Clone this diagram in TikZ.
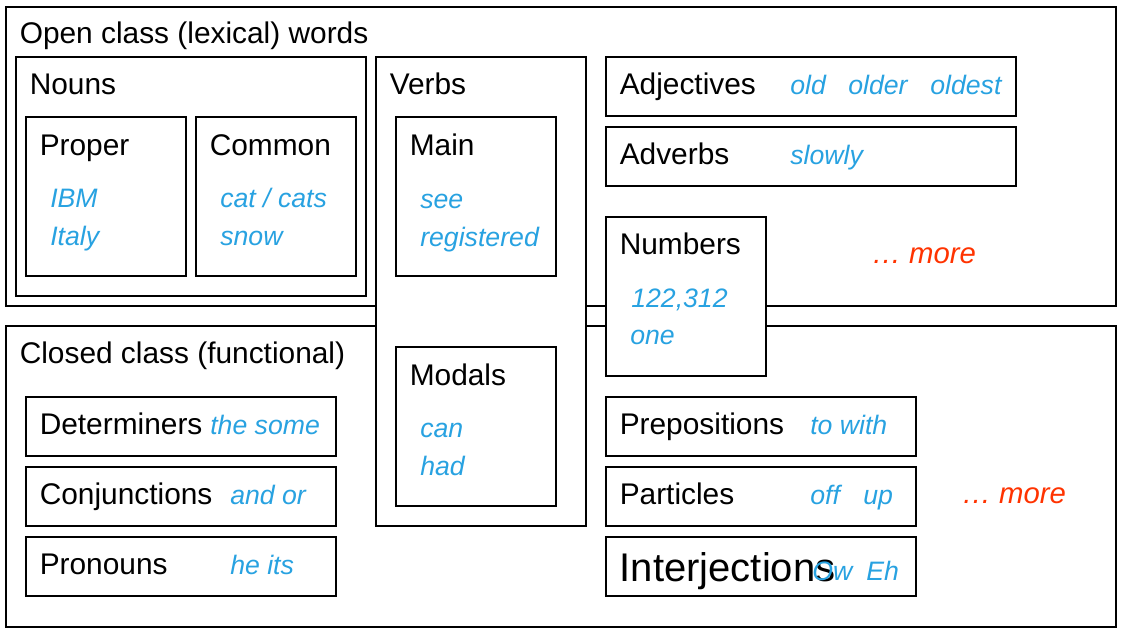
\documentclass[tikz,border=0pt]{standalone}
\usepackage{fontspec}
\setmainfont{Liberation Sans}
\definecolor{exblue}{RGB}{40,162,225}
\definecolor{morered}{RGB}{255,51,0}
\tikzset{
  box/.style={draw=black, line width=1.1pt, fill=white},
  lab/.style={anchor=base west, inner sep=0pt, font=\fontsize{22.4}{26}\selectfont},
  biglab/.style={anchor=base west, inner sep=0pt, font=\fontsize{30}{34}\selectfont},
  ex/.style={anchor=base west, inner sep=0pt, text=exblue, font=\fontsize{20}{24}\selectfont\itshape},
  more/.style={anchor=base west, inner sep=0pt, text=morered, font=\fontsize{22}{26}\selectfont\itshape},
}
\begin{document}
\begin{tikzpicture}[x=0.75pt, y=-0.75pt]
\useasboundingbox (0,0) rectangle (1121,631);
% outer classes
\draw[box] (6,7) rectangle (1116,306);
\node[lab] (open) at (19.5,43.5) {Open class (lexical) words};
\draw[box] (6,326) rectangle (1116,627);
\node[lab] (closed) at (19.5,363.5) {Closed class (functional)};
% Nouns
\draw[box] (16,57) rectangle (366,296);
\node[lab] (nouns) at (29.5,94.5) {Nouns};
\draw[box] (26,117) rectangle (186,276);
\node[lab] (proper) at (39.5,155.5) {Proper};
\node[ex] (ibm) at (50,207.5) {IBM};
\node[ex] (italy) at (50,245.5) {Italy};
\draw[box] (196,117) rectangle (356,276);
\node[lab] (common) at (209.5,155.5) {Common};
\node[ex] (cat) at (220,207.5) {cat / cats};
\node[ex] (snow) at (220,245.5) {snow};
% Verbs
\draw[box] (376,57) rectangle (586,526);
\node[lab] (verbs) at (389.5,94.5) {Verbs};
\draw[box] (396,117) rectangle (556,276);
\node[lab] (main) at (409.5,155.5) {Main};
\node[ex] (see) at (420,208.5) {see};
\node[ex] (reg) at (420,246.5) {registered};
\draw[box] (396,347) rectangle (556,506);
\node[lab] (modals) at (409.5,385.5) {Modals};
\node[ex] (can) at (420,437.5) {can};
\node[ex] (had) at (420,475.5) {had};
% Adjectives, adverbs
\draw[box] (606,57) rectangle (1016,116);
\node[lab] (adj) at (619.5,94.5) {Adjectives};
\node[ex] (old) at (790,94.5) {old};
\node[ex] (older) at (848,94.5) {older};
\node[ex] (oldest) at (930,94.5) {oldest};
\draw[box] (606,127) rectangle (1016,186);
\node[lab] (adv) at (619.5,164.5) {Adverbs};
\node[ex] (slowly) at (790,164.5) {slowly};
% Numbers
\draw[box] (606,217) rectangle (766,376);
\node[lab] (num) at (619.5,254.5) {Numbers};
\node[ex] (n1) at (631,307.5) {122,312};
\node[ex] (n2) at (630,344.5) {one};
\node[more] (more1) at (871.5,263.5) {… more};
% closed class items
\draw[box] (26,397) rectangle (336,456);
\node[lab] (det) at (39.5,434.5) {Determiners};
\node[ex] (det1) at (210,434.5) {the some};
\draw[box] (26,467) rectangle (336,526);
\node[lab] (conj) at (39.5,504.5) {Conjunctions};
\node[ex] (conj1) at (230,504.5) {and or};
\draw[box] (26,537) rectangle (336,596);
\node[lab] (pron) at (39.5,574.5) {Pronouns};
\node[ex] (pron1) at (230,574.5) {he its};
\draw[box] (606,397) rectangle (916,456);
\node[lab] (prep) at (619.5,434.5) {Prepositions};
\node[ex] (prep1) at (810,434.5) {to with};
\draw[box] (606,467) rectangle (916,526);
\node[lab] (part) at (619.5,504.5) {Particles};
\node[ex] (off) at (810,504.5) {off};
\node[ex] (up) at (863,504.5) {up};
\draw[box] (606,537) rectangle (916,596);
\node[biglab] (interj) at (619.5,581.5) {Interjections};
\node[ex] (ow) at (812,580.5) {Ow};
\node[ex] (eh) at (866,580.5) {Eh};
\node[more] (more2) at (961.5,503.5) {… more};
\end{tikzpicture}
\end{document}
